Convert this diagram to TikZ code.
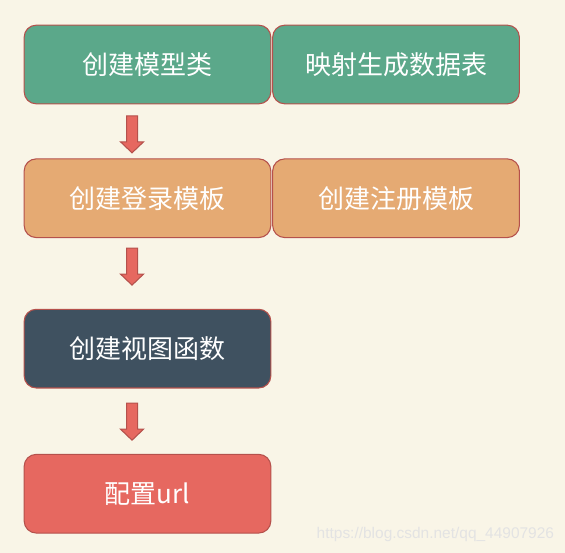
\documentclass[tikz,border=0pt]{standalone}
\usepackage{fontspec}
\setmainfont{Noto Sans CJK SC}
\newfontfamily\wmfont{Liberation Sans}
\usetikzlibrary{positioning}

\definecolor{bgcream}{HTML}{F9F5E7}
\definecolor{boxgreen}{HTML}{5BA88A}
\definecolor{boxorange}{HTML}{E5AA73}
\definecolor{boxslate}{HTML}{3F5160}
\definecolor{boxred}{HTML}{E66860}
\definecolor{edgered}{HTML}{B5514C}

\begin{document}
\begin{tikzpicture}[
    x=0.75pt, y=-0.75pt,
    every node/.style={font=\fontsize{19.5}{23}\selectfont, align=center},
    box/.style={rectangle, draw=edgered, line width=0.8pt, rounded corners=9pt,
                text=white, minimum width=185pt, minimum height=59pt, inner sep=2pt},
    blockarrow/.style={draw=edgered, fill=boxred, line width=0.8pt, line join=miter}
]

\fill[bgcream] (0,0) rectangle (565,553);
\useasboundingbox (0,0) rectangle (565,553);

\node[box, fill=boxgreen] (model) at (147.5,64.5) {创建模型类};
\node[box, fill=boxgreen, right=0.6pt of model] (table) {映射生成数据表};
\node[box, fill=boxorange, below=40.5pt of model] (login) {创建登录模板};
\node[box, fill=boxorange, right=0.6pt of login] (register) {创建注册模板};
\node[box, fill=boxslate, below=53pt of login] (view) {创建视图函数};
\node[box, fill=boxred, below=49pt of view] (url) {配置url};

\coordinate[below=8.6pt of model, xshift=-11.6pt] (a1);
\coordinate[below=7.5pt of login, xshift=-11.6pt] (a2);
\coordinate[below=11pt of view, xshift=-11.6pt] (a3);

\foreach \a in {a1,a2,a3}
  \draw[blockarrow] (\a) ++(-5.5,0) -- ++(0,26) -- ++(-6,0) -- ++(11.5,11)
    -- ++(11.5,-11) -- ++(-6,0) -- ++(0,-26) -- cycle;

\node[font=\wmfont\fontsize{11.6}{14}\selectfont, text=black!11, anchor=base west]
  (wm) at (312,538) {https://blog.csdn.net/qq\_44907926};

\end{tikzpicture}
\end{document}
